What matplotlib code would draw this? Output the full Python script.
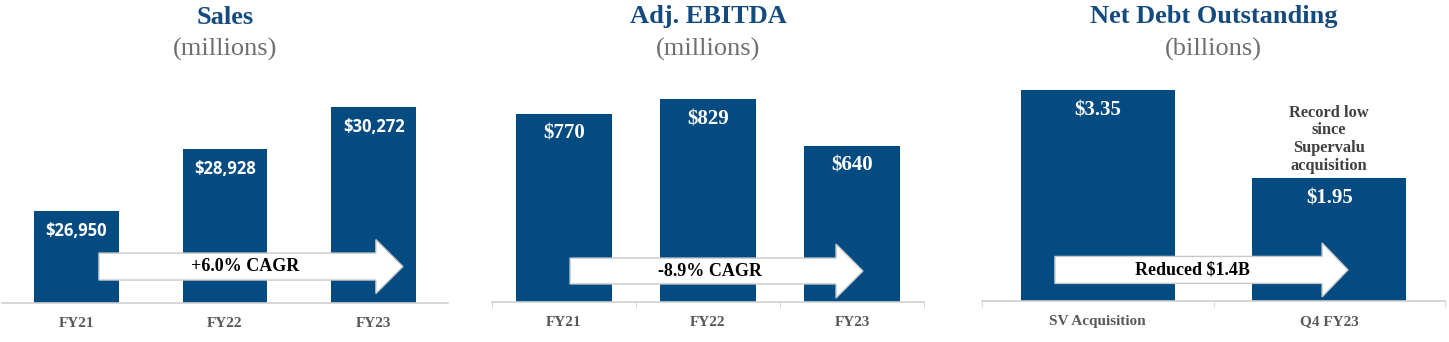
import matplotlib.pyplot as plt
from matplotlib.patches import Polygon
from matplotlib.transforms import blended_transform_factory

sales_cats = ['FY21', 'FY22', 'FY23']
sales_vals = [26950, 28928, 30272]
sales_labels = ['$26,950', '$28,928', '$30,272']

ebitda_cats = ['FY21', 'FY22', 'FY23']
ebitda_vals = [770, 829, 640]
ebitda_labels = ['$770', '$829', '$640']

debt_cats = ['SV Acquisition', 'Q4 FY23']
debt_vals = [3.35, 1.95]
debt_labels = ['$3.35', '$1.95']

BAR = '#034b81'
TITLE = '#154a7e'
SUB = '#6f6f6f'
AXIS = '#d0d0d0'
SERIF = 'Liberation Serif'

W, H = 1449, 342


def add_arrow(ax, x0, x1, head_len, yc, body_h, head_h, text, tx, fs):
    tr = blended_transform_factory(ax.transData, ax.transAxes)
    xh = x1 - head_len
    pts = [(x0, yc - body_h / 2), (xh, yc - body_h / 2), (xh, yc - head_h / 2),
           (x1, yc), (xh, yc + head_h / 2), (xh, yc + body_h / 2), (x0, yc + body_h / 2)]
    ax.add_patch(Polygon(pts, closed=True, facecolor='white', edgecolor='#c8c8c8',
                         linewidth=1.0, transform=tr, zorder=3, clip_on=False))
    ax.text(tx, yc, text, transform=tr, ha='center', va='center', fontsize=fs,
            fontweight='bold', family=SERIF, color='black', zorder=4)


def panel(px_left, px_right, px_base, px_top, cats, vals, labels, width, ylim,
          title, sub, lab_font, lab_size, ticks):
    ax = fig.add_axes([px_left / W, 1 - px_base / H, (px_right - px_left) / W,
                       (px_base - px_top) / H])
    x = range(len(cats))
    ax.bar(x, vals, width=width, color=BAR, zorder=2)
    ax.set_xlim(-0.5, len(cats) - 0.5)
    ax.set_ylim(*ylim)
    for s in ['top', 'right', 'left']:
        ax.spines[s].set_visible(False)
    ax.spines['bottom'].set_color(AXIS)
    ax.spines['bottom'].set_linewidth(1.2)
    ax.set_yticks([])
    ax.set_xticks(list(x))
    ax.set_xticklabels(cats, family=SERIF, fontweight='bold', fontsize=11, color='#595959')
    ax.tick_params(axis='x', length=0, pad=10)
    if ticks:
        ax.set_xticks([i - 0.5 for i in range(len(cats) + 1)], minor=True)
        ax.tick_params(axis='x', which='minor', length=4, color=AXIS)
    for i, (v, l) in enumerate(zip(vals, labels)):
        ax.annotate(l, (i, v), xytext=(0, -14.5), textcoords='offset points',
                    ha='center', va='center', color='white', fontweight='bold',
                    fontsize=lab_size, family=lab_font, zorder=4)
    yt = 1 - 17 / H
    ys = 1 - 49 / H
    tr = blended_transform_factory(ax.transAxes, fig.transFigure)
    ax.text(0.5, yt, title, transform=tr, ha='center', va='center', fontsize=19,
            fontweight='bold', family=SERIF, color=TITLE)
    ax.text(0.5, ys, sub, transform=tr, ha='center', va='center', fontsize=19,
            family=SERIF, color=SUB)
    return ax


fig = plt.figure(figsize=(W / 100, H / 100), dpi=100)

ax1 = panel(2, 448, 303, 60, sales_cats, sales_vals, sales_labels, 0.57,
            (24011, 24011 + 243 * 31.94), 'Sales', '(millions)', 'Open Sans', 12, False)
add_arrow(ax1, 0.152, 2.197, 0.182, 0.150, 0.111, 0.222, '+6.0% CAGR', 1.134, 13)

ax2 = panel(492, 924, 302, 60, ebitda_cats, ebitda_vals, ebitda_labels, 0.67,
            (0, 242 * 4.09), 'Adj. EBITDA', '(millions)', SERIF, 15, True)
add_arrow(ax2, 0.042, 2.076, 0.187, 0.128, 0.107, 0.223, '-8.9% CAGR', 1.014, 13)

ax3 = panel(982, 1445, 301, 60, debt_cats, debt_vals, debt_labels, 0.665,
            (0, 241 * 0.01587), 'Net Debt Outstanding', '(billions)', SERIF, 15, True)
add_arrow(ax3, -0.185, 1.081, 0.112, 0.129, 0.112, 0.224, 'Reduced $1.4B', 0.411, 13)
ax3.annotate('Record low\nsince\nSupervalu\nacquisition', (1, debt_vals[1]),
             xytext=(0, 3), textcoords='offset points', ha='center', va='bottom',
             fontsize=11.8, fontweight='bold', family=SERIF, color='#404040',
             linespacing=1.15)

fig.savefig('out.png', dpi=100, facecolor='white')
